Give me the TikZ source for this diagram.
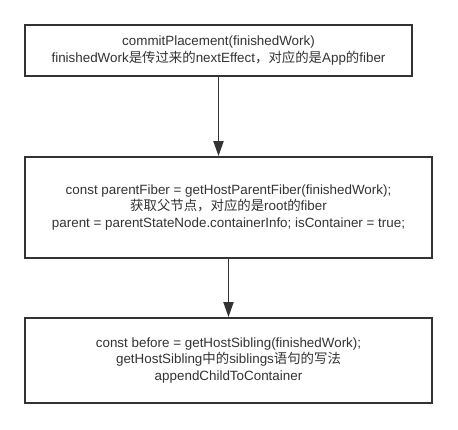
\documentclass[tikz,border=0pt]{standalone}
\usepackage{fontspec}
\setmainfont{Liberation Sans}
\newfontfamily\cjk{Noto Sans CJK SC}
\usetikzlibrary{arrows.meta}
\definecolor{edge}{HTML}{333333}
\definecolor{txt}{HTML}{333333}
\begin{document}
\begin{tikzpicture}[x=1pt,y=-1pt,
  box/.style={draw=edge, line width=1.8pt, fill=white, rectangle, inner sep=0pt,
    align=center, text=txt, font=\fontsize{13.4}{16.5}\selectfont},
  conn/.style={draw=edge, line width=1.8pt, -{Triangle[length=15pt,width=10pt]}}]
\useasboundingbox (0,0) rectangle (458,429);
\fill[white] (0,0) rectangle (458,429);
\node[box, minimum width=387pt, minimum height=51pt] (b1) at (218.5,50.5)
  {commitPlacement(finishedWork)\\finishedWork{\cjk 是传过来的}nextEffect{\cjk ，对应的是}App{\cjk 的}fiber};
\node[box, minimum width=407pt, minimum height=101pt] (b2) at (228.5,207.5)
  {const parentFiber = getHostParentFiber(finishedWork);\\{\cjk 获取父节点，对应的是}root{\cjk 的}fiber\\parent = parentStateNode.containerInfo; isContainer = true;};
\node[box, minimum width=407pt, minimum height=85pt] (b3) at (228.5,360.5)
  {const before = getHostSibling(finishedWork);\\getHostSibling{\cjk 中的}siblings{\cjk 语句的写法}\\appendChildToContainer};
\draw[conn] (b1.south) -- (b1.south |- b2.north);
\draw[conn] (b2.south) -- (b3.north);
\end{tikzpicture}
\end{document}
